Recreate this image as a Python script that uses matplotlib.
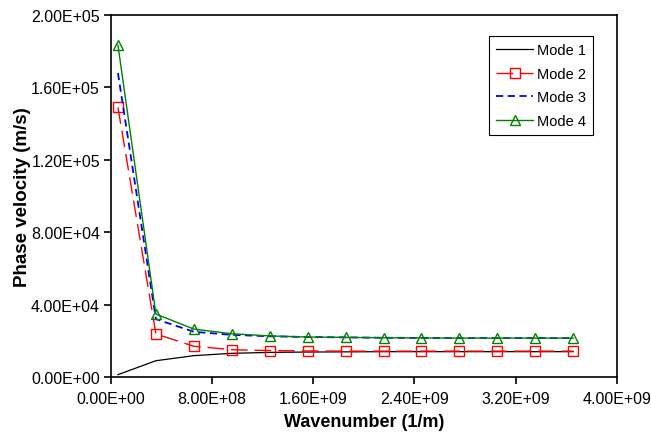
import matplotlib.pyplot as plt
import numpy as np

plt.rcParams["font.family"] = ["Liberation Sans", "DejaVu Sans"]

wavenumber = [5.5e7, 3.55e8, 6.55e8, 9.55e8, 1.255e9, 1.555e9, 1.855e9,
              2.155e9, 2.455e9, 2.755e9, 3.055e9, 3.355e9, 3.655e9]
mode1 = [1300, 9000, 11800, 13100, 13600, 13800, 13900, 14000, 14000, 14000, 14000, 14000, 14000]
mode2 = [149000, 23800, 17000, 15100, 14600, 14400, 14300, 14300, 14300, 14300, 14300, 14300, 14300]
mode3 = [168000, 32000, 25000, 23300, 22500, 22100, 21900, 21700, 21600, 21500, 21500, 21500, 21500]
mode4 = [183400, 34800, 26500, 23900, 22700, 22100, 21900, 21700, 21600, 21500, 21500, 21500, 21500]

fig = plt.figure(figsize=(6.51, 4.35), dpi=100)
ax = fig.add_axes([0.1705, 0.131, 0.777, 0.832])

ax.plot(wavenumber, mode1, color="black", lw=0.9, label="Mode 1")
ax.plot(wavenumber, mode2, color="red", lw=1.0, dashes=(12, 5), marker="s",
        ms=7, mfc="none", mec="red", mew=1.0, label="Mode 2")
ax.plot(wavenumber, mode3, color="blue", lw=1.3, dashes=(4, 2.5), label="Mode 3")
ax.plot(wavenumber, mode4, color="green", lw=1.0, marker="^",
        ms=7, mfc="none", mec="green", mew=1.0, label="Mode 4")

ax.set_xlim(0, 4e9)
ax.set_ylim(0, 2e5)
ax.set_xticks(np.arange(0, 4.01e9, 8e8))
ax.set_yticks(np.arange(0, 2.01e5, 4e4))
ax.set_xticklabels([f"{v:.2E}" for v in ax.get_xticks()], fontsize=11.5)
ax.set_yticklabels([f"{v:.2E}" for v in ax.get_yticks()], fontsize=11.5)
ax.tick_params(direction="out", length=5, width=1.2)
ax.tick_params(axis="x", pad=5)
ax.tick_params(axis="y", pad=3)
for s in ax.spines.values():
    s.set_linewidth(1.2)

ax.set_xlabel("Wavenumber (1/m)", fontsize=13, fontweight="bold", labelpad=5)
ax.set_ylabel("Phase velocity (m/s)", fontsize=13.5, fontweight="bold", labelpad=0)

leg = ax.legend(loc="upper right", bbox_to_anchor=(0.9526, 0.942), fontsize=10.5,
                fancybox=False, edgecolor="black", framealpha=1, borderaxespad=0,
                handlelength=2.5, handletextpad=0.25, borderpad=0.5, labelspacing=0.65)
leg.get_frame().set_linewidth(0.8)

fig.savefig("out.png", dpi=100)
